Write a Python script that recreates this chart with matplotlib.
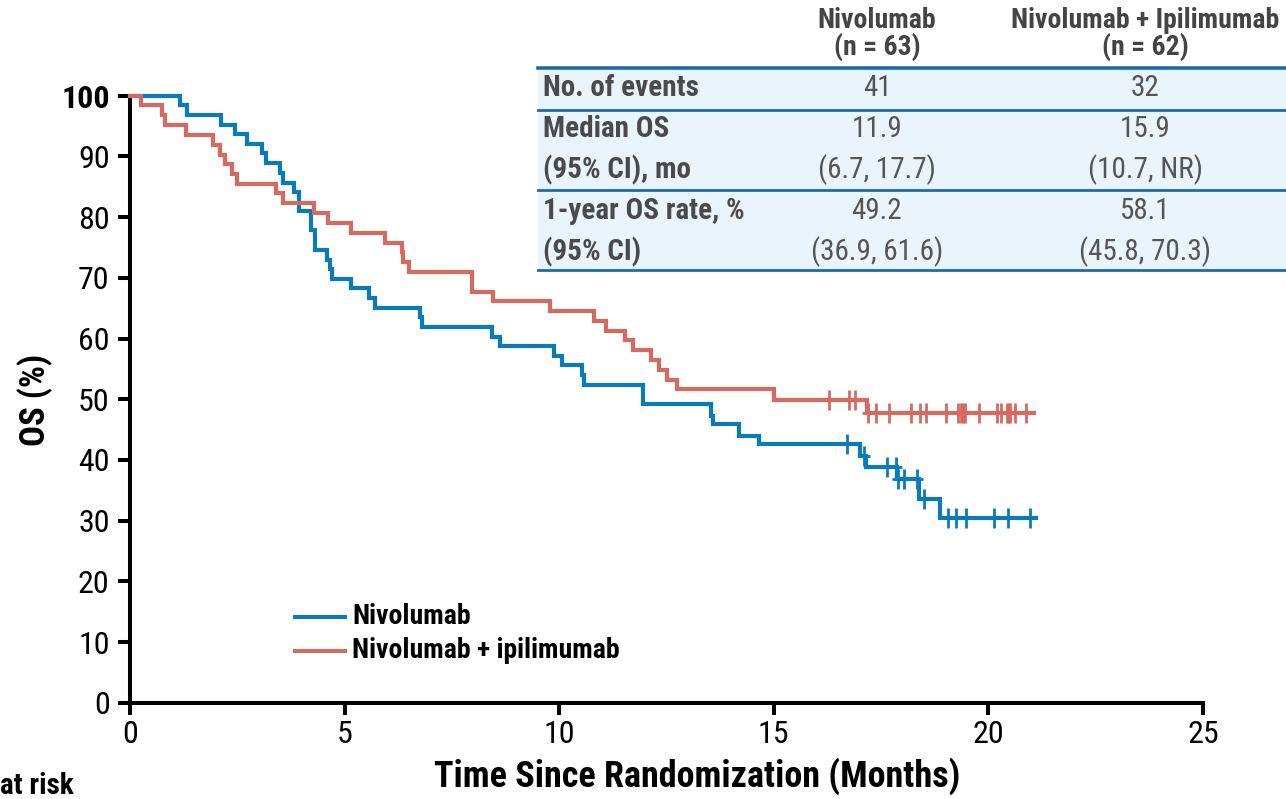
import numpy as np
import matplotlib
matplotlib.use("Agg")
import matplotlib.pyplot as plt
from matplotlib import font_manager
from matplotlib.path import Path
from matplotlib.patches import Rectangle
from matplotlib.lines import Line2D

# step data (time in months, OS %)
nivo_t = [0, 1.16, 1.32, 2.12, 2.45, 2.72, 3.07, 3.18, 3.49, 3.56, 3.81, 3.94,
          4.22, 4.31, 4.58, 4.66, 4.70, 5.15, 5.58, 5.71, 6.76, 6.80, 8.43, 8.62,
          9.88, 10.06, 10.52, 10.58, 11.96, 13.53, 13.59, 14.19, 14.66, 17.00,
          17.14, 17.87, 18.39, 18.88]
nivo_s = [100, 98.4, 96.8, 95.2, 93.7, 92.1, 90.5, 88.9, 87.3, 85.7, 84.1, 81.0,
          77.8, 74.6, 73.0, 71.4, 69.8, 68.3, 66.7, 65.1, 63.5, 61.9, 60.3, 58.7,
          57.1, 55.6, 54.0, 52.4, 49.2, 47.3, 45.9, 43.9, 42.7, 40.6,
          38.9, 36.9, 33.6, 30.4]
nivo_end = 21.12
nivo_cens = [16.71, 17.11, 17.63, 17.85, 17.89, 18.04, 18.34, 18.50, 19.05,
             19.25, 19.48, 20.14, 20.45, 20.96]

combo_t = [0, 0.25, 0.74, 0.82, 1.30, 1.93, 2.10, 2.21, 2.37, 2.50, 3.40, 3.57,
           4.29, 4.62, 5.15, 5.94, 6.34, 6.37, 6.49, 7.96, 8.46, 9.79, 10.81,
           11.09, 11.53, 11.73, 12.14, 12.33, 12.52, 12.74, 15.01, 17.17]
combo_s = [100, 98.4, 96.8, 95.2, 93.5, 91.9, 90.3, 88.7, 87.1, 85.5, 83.9, 82.3,
           80.6, 79.0, 77.4, 75.8, 74.2, 72.6, 71.0, 67.7, 66.1, 64.5, 62.9,
           61.3, 59.7, 58.1, 56.5, 54.8, 53.2, 51.6, 49.8, 47.8]
combo_end = 21.06
combo_cens = [16.28, 16.76, 16.90, 17.19, 17.38, 17.68, 18.19, 18.40, 18.55,
              19.01, 19.30, 19.35, 19.40, 19.45, 19.77, 20.19, 20.30, 20.43,
              20.47, 20.51, 20.63, 20.88]

# summary table
col_heads = ["Nivolumab\n(n = 63)", "Nivolumab + Ipilimumab\n(n = 62)"]
row_labels = ["No. of events", "Median OS", "(95% CI), mo",
              "1-year OS rate, %", "(95% CI)"]
nivo_vals = ["41", "11.9", "(6.7, 17.7)", "49.2", "(36.9, 61.6)"]
combo_vals = ["32", "15.9", "(10.7, NR)", "58.1", "(45.8, 70.3)"]

BLUE = "#0a7bb8"
RED = "#d66a61"

available = {f.name for f in font_manager.fontManager.ttflist}
narrow = next((n for n in ["Liberation Sans Narrow", "Arial Narrow", "Roboto Condensed"]
               if n in available), None)
if narrow:
    FONT, k = narrow, 1.0
else:
    FONT, k = "Liberation Sans", 0.82
plt.rcParams["font.family"] = [FONT, "DejaVu Sans"]

W, H = 1286, 799
fig = plt.figure(figsize=(W / 100, H / 100), dpi=100)
ax = fig.add_axes([130 / W, 1 - 702.7 / H, 1073 / W, 607 / H])


def fx(px):
    return px / W


def fy(py):
    return 1 - py / H


# censor mark: tall plus
plus = Path([(-0.6, 0), (0.6, 0), (0, -1), (0, 1)],
            [Path.MOVETO, Path.LINETO, Path.MOVETO, Path.LINETO])


def km(t, s, end, cens, color):
    tt = list(t) + [end]
    ss = list(s) + [s[-1]]
    ax.step(tt, ss, where="post", color=color, lw=3.0, clip_on=False,
            solid_joinstyle="miter", zorder=3)
    t_arr = np.array(t)
    lev = [s[np.searchsorted(t_arr, c, side="right") - 1] for c in cens]
    ax.plot(cens, lev, ls="none", marker=plus, ms=14.5, mew=2.0,
            color=color, clip_on=False, zorder=4)


km(nivo_t, nivo_s, nivo_end, nivo_cens, BLUE)
km(combo_t, combo_s, combo_end, combo_cens, RED)

ax.set_xlim(0, 25)
ax.set_ylim(0, 100)
ax.set_xticks(range(0, 26, 5))
ax.set_yticks(range(0, 101, 10))
for sp in ["top", "right"]:
    ax.spines[sp].set_visible(False)
for sp in ["left", "bottom"]:
    ax.spines[sp].set_linewidth(2.9)
ax.tick_params(direction="out", length=8.6, width=2.9, labelsize=23 * k,
               colors="black")
ax.tick_params(axis="y", pad=6.0)
ax.tick_params(axis="x", pad=4.0)
ax.get_yticklabels()[-1].set_fontweight("bold")

ax.set_xlabel("Time Since Randomization (Months)", fontsize=26 * k,
              fontweight="bold")
ax.xaxis.set_label_coords((697 - 130) / 1073, (702.7 - 776) / 607)
ax.xaxis.label.set_va("center")
ax.set_ylabel("OS (%)", fontsize=25 * k, fontweight="bold")
ax.yaxis.set_label_coords((35 - 130) / 1073, (702.7 - 400) / 607)
ax.yaxis.label.set_va("center")

# legend drawn by hand
for yy, col, lab in [(617, BLUE, "Nivolumab"), (651, RED, "Nivolumab + ipilimumab")]:
    fig.add_artist(Line2D([fx(295), fx(345)], [fy(yy), fy(yy)], color=col,
                          lw=2.9, transform=fig.transFigure))
    fig.text(fx(352), fy(yy), lab, fontsize=20 * k, fontweight="bold",
             va="center", ha="left")

fig.text(fx(0), fy(786), "at risk", fontsize=21 * k, fontweight="bold",
         va="center", ha="left")

# summary table
fig.add_artist(Rectangle((fx(538), fy(270)), fx(W - 538), fy(68) - fy(270),
                         transform=fig.transFigure, facecolor="#eaf4fc",
                         edgecolor="none", zorder=1))
for yy, lw in [(68, 2.6), (110, 2.0), (190, 2.0), (270, 2.0)]:
    fig.add_artist(Line2D([fx(538), 1], [fy(yy), fy(yy)], color="#1b6daa",
                          lw=lw, transform=fig.transFigure, zorder=2))
col_x = [877, 1145]
for cx, head in zip(col_x, col_heads):
    fig.text(fx(cx), fy(34), head, fontsize=20 * k, fontweight="bold",
             color="#444444", ha="center", va="center", linespacing=0.95)
row_y = [88, 129, 170, 211, 252]
for ry, lab, v1, v2 in zip(row_y, row_labels, nivo_vals, combo_vals):
    fig.text(fx(543), fy(ry), lab, fontsize=21 * k, fontweight="bold",
             color="#4a4a4a", ha="left", va="center", zorder=3)
    fig.text(fx(col_x[0]), fy(ry), v1, fontsize=21 * k, color="#555555",
             ha="center", va="center", zorder=3)
    fig.text(fx(col_x[1]), fy(ry), v2, fontsize=21 * k, color="#555555",
             ha="center", va="center", zorder=3)

fig.savefig("out.png", dpi=100)
